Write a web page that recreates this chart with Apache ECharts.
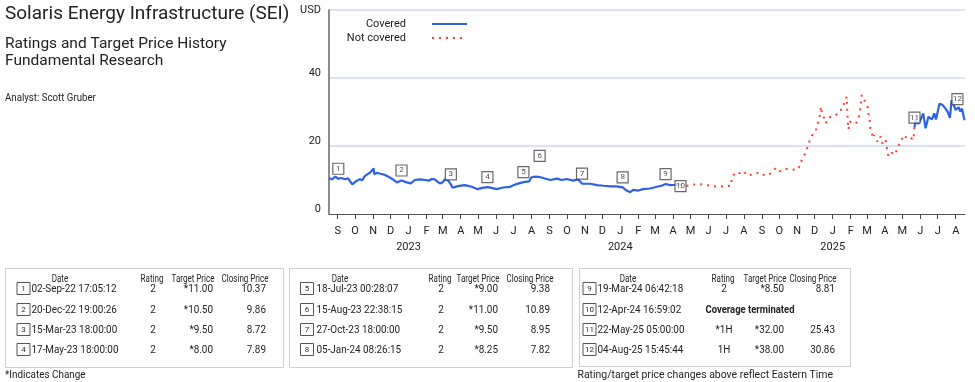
<!DOCTYPE html>
<html>
<head>
<meta charset="utf-8">
<script src="https://cdn.jsdelivr.net/npm/echarts@6.0.0/dist/echarts.min.js"></script>
<style>
  html, body { margin: 0; padding: 0; background: #ffffff; }
  #chart { width: 975px; height: 382px; }
</style>
</head>
<body>
<div id="chart"></div>
<script>
// ---------- DATA ----------
const coveredDates1 = ['2022-08-17','2022-08-22','2022-08-28','2022-09-02','2022-09-07','2022-09-14','2022-09-19','2022-09-26','2022-10-04','2022-10-09','2022-10-13','2022-10-18','2022-10-27','2022-11-02','2022-11-03','2022-11-07','2022-11-12','2022-11-18','2022-11-27','2022-12-05','2022-12-12','2022-12-20','2022-12-29','2023-01-05','2023-01-12','2023-01-21','2023-01-30','2023-02-05','2023-02-10','2023-02-15','2023-02-24','2023-02-28','2023-03-05','2023-03-10','2023-03-15','2023-03-18','2023-03-27','2023-04-08','2023-04-20','2023-04-30','2023-05-08','2023-05-17','2023-05-24','2023-06-02','2023-06-13','2023-06-25','2023-07-06','2023-07-18','2023-07-28','2023-08-01','2023-08-08','2023-08-15','2023-08-21','2023-09-02','2023-09-14','2023-09-22','2023-10-01','2023-10-12','2023-10-20','2023-10-27','2023-11-10','2023-11-22','2023-12-03','2023-12-15','2023-12-26','2024-01-05','2024-01-12','2024-01-18','2024-01-23','2024-02-01','2024-02-09','2024-02-21','2024-03-04','2024-03-12','2024-03-19','2024-03-27','2024-04-05','2024-04-12'];
const coveredPrices1 = [10.5,10.2,11.0,10.37,10.6,10.2,10.5,8.7,9.8,10.2,9.9,11.2,12.2,13.4,11.7,12.1,11.9,11.7,11.0,10.2,9.3,9.86,9.3,9.0,10.0,10.2,10.0,9.8,10.3,10.2,9.0,9.2,10.2,9.9,8.72,7.7,8.2,8.5,8.0,7.3,7.7,7.89,7.7,7.3,7.8,8.0,8.8,9.38,9.6,10.8,11.0,10.89,10.6,10.0,10.4,10.0,10.3,9.8,10.2,8.95,8.9,8.5,8.3,8.1,8.1,7.82,6.9,6.4,7.1,6.9,7.3,7.5,8.0,8.3,8.81,8.5,8.6,8.7];

const notCoveredDates = ['2024-04-12','2024-04-25','2024-05-12','2024-05-23','2024-06-04','2024-06-16','2024-06-29','2024-07-10','2024-07-11','2024-07-18','2024-07-25','2024-07-30','2024-08-08','2024-08-18','2024-08-29','2024-09-06','2024-09-18','2024-09-25','2024-10-02','2024-10-11','2024-10-20','2024-10-31','2024-11-07','2024-11-09','2024-11-14','2024-11-19','2024-11-23','2024-11-26','2024-12-03','2024-12-05','2024-12-09','2024-12-12','2024-12-13','2024-12-16','2024-12-20','2024-12-25','2025-01-02','2025-01-08','2025-01-15','2025-01-16','2025-01-22','2025-01-25','2025-01-27','2025-01-28','2025-01-31','2025-02-09','2025-02-14','2025-02-17','2025-02-20','2025-02-23','2025-02-26','2025-03-02','2025-03-04','2025-03-06','2025-03-07','2025-03-12','2025-03-13','2025-03-16','2025-03-19','2025-03-24','2025-03-27','2025-04-02','2025-04-05','2025-04-07','2025-04-13','2025-04-19','2025-04-23','2025-04-28','2025-05-03','2025-05-09','2025-05-14','2025-05-20','2025-05-22'];
const notCoveredPrices = [8.7,8.3,8.8,8.7,8.3,8.0,8.2,8.3,10.7,12.3,12.0,12.7,11.3,11.8,12.2,11.3,12.0,13.6,12.6,13.3,13.2,12.9,14.5,16.3,17.6,19.8,22.0,23.0,24.5,26.0,28.1,31.6,29.6,28.8,26.7,28.4,28.6,29.3,30.1,31.6,32.6,34.5,27.2,24.9,27.2,26.5,27.6,30.1,35.0,34.0,33.0,31.6,29.1,27.2,24.9,22.3,23.2,23.7,21.3,22.9,20.8,22.0,18.8,16.9,18.0,17.5,19.8,21.0,23.2,22.3,22.7,21.8,25.43];

const coveredDates2 = ['2025-05-22','2025-05-24','2025-05-28','2025-05-31','2025-06-06','2025-06-10','2025-06-15','2025-06-21','2025-06-25','2025-06-28','2025-07-04','2025-07-09','2025-07-14','2025-07-18','2025-07-22','2025-07-25','2025-07-28','2025-08-01','2025-08-04','2025-08-06','2025-08-09','2025-08-12','2025-08-16'];
const coveredPrices2 = [25.43,27.9,26.5,27.2,29.6,25.2,28.6,27.8,29.6,27.8,32.4,32.1,31.1,30.1,28.3,33.5,33.5,30.6,30.86,31.4,30.1,31.0,27.6];

const eventDates = ['2022-09-02','2022-12-20','2023-03-15','2023-05-17','2023-07-18','2023-08-15','2023-10-27','2024-01-05','2024-03-19','2024-04-12','2025-05-22','2025-08-04'];
const eventPrices = [10.37,9.86,8.72,7.89,9.38,10.89,8.95,7.82,8.81,8.8,25.43,30.86];
const eventLabels = ['1','2','3','4','5','6','7','8','9','10','11','12'];

const tableDates = ['02-Sep-22 17:05:12','20-Dec-22 19:00:26','15-Mar-23 18:00:00','17-May-23 18:00:00','18-Jul-23 00:28:07','15-Aug-23 22:38:15','27-Oct-23 18:00:00','05-Jan-24 08:26:15','19-Mar-24 06:42:18','12-Apr-24 16:59:02','22-May-25 05:00:00','04-Aug-25 15:45:44'];
const tableRatings = ['2','2','2','2','2','2','2','2','2','','*1H','1H'];
const tableTargets = ['*11.00','*10.50','*9.50','*8.00','*9.00','*11.00','*9.50','*8.25','*8.50','','*32.00','*38.00'];
const tableCloses = ['10.37','9.86','8.72','7.89','9.38','10.89','8.95','7.82','8.81','','25.43','30.86'];
const tableNotes = ['','','','','','','','','','Coverage terminated','',''];
const tableHeaders = ['Date','Rating','Target Price','Closing Price'];

const monthInitials = ['J','F','M','A','M','J','J','A','S','O','N','D'];
const yearLabels = ['2023','2024','2025'];
const yTopLabel = 'USD';

const titleText = 'Solaris Energy Infrastructure (SEI)';
const subtitleLines = ['Ratings and Target Price History', 'Fundamental Research'];
const analystText = 'Analyst: Scott Gruber';
const footLeft = '*Indicates Change';
const footRight = 'Rating/target price changes above reflect Eastern Time';

// ---------- LAYOUT / STYLE ----------
const FONT = 'Roboto, "Noto Sans", sans-serif';
const BLUE = '#2c62e3';
const RED = '#ff3b2f';

const xMin = '2022-08-17';
const xMax = '2025-08-17';

const coveredData = coveredDates1.map((d, i) => [d, coveredPrices1[i]])
  .concat([['2024-04-13', '-']])
  .concat(coveredDates2.map((d, i) => [d, coveredPrices2[i]]));
const notCoveredData = notCoveredDates.map((d, i) => [d, notCoveredPrices[i]]);

const eventData = eventDates.map((d, i) => ({
  value: [d, eventPrices[i]],
  symbolOffset: i === 5 ? [0, -21] : (i === 9 ? [1, 2] : [0, -10])
}));

// tables
const tableLayout = [
  {box: [5.5, 268.5, 278, 99], num: 23.5, date: 31.5, dateHdr: 60, rating: 152, tgtHdr: 193, tgt: 213, closeHdr: 245, close: 266, note: 0},
  {box: [289.5, 268.5, 283, 99], num: 307, date: 316.5, dateHdr: 340, rating: 440, tgtHdr: 478, tgt: 498, closeHdr: 530, close: 550, note: 0},
  {box: [579.5, 268.5, 271, 98], num: 589.5, date: 597.5, dateHdr: 628, rating: 723, tgtHdr: 765, tgt: 784, closeHdr: 813, close: 835, note: 750}
];
const rowY = [289, 310, 330, 350];
const headerY = 279;

function txt(x, y, text, size, align, opts) {
  opts = opts || {};
  return {
    type: 'text', x: x, y: y, silent: true, scaleX: opts.sx || 1, z: 10,
    style: {
      text: text, fontSize: size, fontFamily: FONT, fontWeight: opts.weight || 'normal',
      fill: opts.color || '#222', align: align || 'left', verticalAlign: 'middle'
    }
  };
}

const graphics = [];
// titles
graphics.push(txt(5, 14, titleText, 19, 'left'));
graphics.push(txt(5, 44, subtitleLines[0], 15.5, 'left'));
graphics.push(txt(5, 61, subtitleLines[1], 15.5, 'left'));
graphics.push(txt(5, 98, analystText, 11, 'left', {sx: 0.88}));
graphics.push(txt(5, 375, footLeft, 11, 'left', {sx: 0.9}));
graphics.push(txt(833, 375, footRight, 11, 'right', {sx: 0.95}));

tableLayout.forEach((L, t) => {
  graphics.push({type: 'rect', silent: true, shape: {x: L.box[0], y: L.box[1], width: L.box[2], height: L.box[3]},
    style: {fill: 'none', stroke: '#cfcfcf', lineWidth: 1}});
  const hs = {sx: 0.8};
  graphics.push(txt(L.dateHdr, headerY, tableHeaders[0], 10, 'center', hs));
  graphics.push(txt(L.rating, headerY, tableHeaders[1], 10, 'center', hs));
  graphics.push(txt(L.tgtHdr, headerY, tableHeaders[2], 10, 'center', hs));
  graphics.push(txt(L.closeHdr, headerY, tableHeaders[3], 10, 'center', hs));
  for (let r = 0; r < 4; r++) {
    const i = t * 4 + r;
    const y = rowY[r];
    graphics.push({type: 'rect', silent: true, shape: {x: L.num - 6.5, y: y - 6.5, width: 13, height: 12},
      style: {fill: '#fff', stroke: '#555', lineWidth: 1}});
    graphics.push(txt(L.num, y, eventLabels[i], 8, 'center', {color: '#333'}));
    graphics.push(txt(L.date, y, tableDates[i], 11, 'left', {sx: 0.9}));
    if (tableNotes[i]) {
      graphics.push(txt(L.note, y, tableNotes[i], 11, 'center', {weight: 'bold', sx: 0.86}));
    } else {
      graphics.push(txt(L.rating + 1, y, tableRatings[i], 11, 'center', {sx: 0.9}));
      graphics.push(txt(L.tgt, y, tableTargets[i], 11, 'right', {sx: 0.9}));
      graphics.push(txt(L.close, y, tableCloses[i], 11, 'right', {sx: 0.9}));
    }
  }
});

const chart = echarts.init(document.getElementById('chart'), null, {renderer: 'canvas'});
chart.setOption({
  animation: false,
  backgroundColor: '#ffffff',
  legend: {
    data: ['Covered', 'Not covered'],
    orient: 'vertical', align: 'right', right: 507, top: 17, padding: 0,
    itemWidth: 35, itemHeight: 8, itemGap: 0,
    itemStyle: {opacity: 0},
    textStyle: {fontFamily: FONT, fontSize: 11, color: '#222', lineHeight: 14, padding: [0, 21, 0, 0]}
  },
  grid: {left: 329, right: 10, top: 10, bottom: 168, containLabel: false},
  xAxis: {
    type: 'time', min: xMin, max: xMax, splitNumber: 36,
    axisLine: {show: true, lineStyle: {color: '#555', width: 1}},
    axisTick: {show: true, length: 5, lineStyle: {color: '#444', width: 1}},
    splitLine: {show: false},
    axisLabel: {
      margin: 9, hideOverlap: false, showMinLabel: false, showMaxLabel: false,
      formatter: function (value) {
        const d = new Date(value);
        if (d.getDate() !== 1) return '';
        const m = d.getMonth();
        const yIdx = yearLabels.indexOf(String(d.getFullYear()));
        if (m === 0 && yIdx >= 0) return '{m|' + monthInitials[m] + '}\n{y|' + yearLabels[yIdx] + '}';
        return '{m|' + monthInitials[m] + '}';
      },
      rich: {
        m: {fontFamily: FONT, fontSize: 11, color: '#222', lineHeight: 16},
        y: {fontFamily: FONT, fontSize: 11, color: '#222', lineHeight: 16}
      }
    }
  },
  yAxis: {
    type: 'value', min: 0, max: 60, interval: 20,
    axisLine: {show: true, lineStyle: {color: '#666', width: 1.5}},
    axisTick: {show: false},
    splitLine: {show: true, showMinLine: false, lineStyle: {color: '#dbe1f3', width: 2}},
    axisLabel: {
      margin: 8,
      formatter: function (v) {
        if (v === 60) return '{u|' + yTopLabel + '}';
        return '{a|' + v + '}';
      },
      rich: {
        a: {fontFamily: FONT, fontSize: 11, color: '#222', padding: [0, 0, 9, 0]},
        u: {fontFamily: FONT, fontSize: 11, color: '#222'}
      }
    }
  },
  series: [
    {
      name: 'Covered', type: 'line', data: coveredData, connectNulls: false,
      symbol: 'none', showSymbol: false,
      lineStyle: {color: BLUE, width: 2.2},
      itemStyle: {color: BLUE}, z: 3
    },
    {
      name: 'Not covered', type: 'line', data: notCoveredData,
      symbol: 'none', showSymbol: false,
      lineStyle: {color: RED, width: 2, type: [2, 5]},
      itemStyle: {color: RED}, z: 2
    },
    {
      name: 'Events', type: 'scatter', data: eventData,
      symbol: 'rect', symbolSize: [11, 11], z: 5,
      itemStyle: {color: '#ffffff', borderColor: '#444', borderWidth: 1.2},
      label: {
        show: true, position: 'inside', fontFamily: FONT, fontSize: 8, color: '#222',
        formatter: function (p) { return eventLabels[p.dataIndex]; }
      }
    }
  ],
  graphic: graphics
});
</script>
</body>
</html>
